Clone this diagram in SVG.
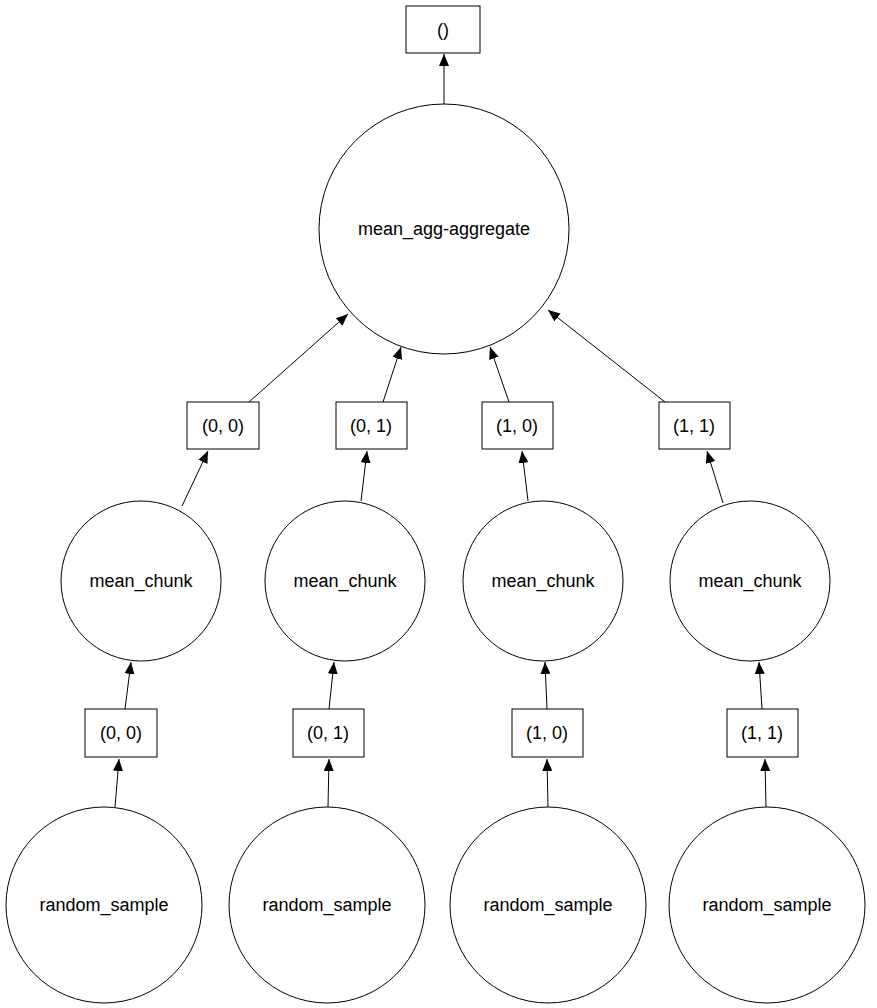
<svg xmlns="http://www.w3.org/2000/svg" width="877" height="1008" viewBox="0 0 877 1008">
<style>
.n{fill:#fff;stroke:#000;stroke-width:1}
text{font-family:"Liberation Sans",Arial,sans-serif;font-size:18px;text-anchor:middle;dominant-baseline:central}
.e{stroke:#000;stroke-width:1;fill:none;marker-end:url(#a)}
</style>
<defs><marker id="a" markerWidth="12" markerHeight="10" refX="12" refY="5" orient="auto" markerUnits="userSpaceOnUse"><path d="M0,0L12,5L0,10z" fill="#000"/></marker></defs>
<rect width="877" height="1008" fill="#fff"/>
<g id="edges">
<path class="e" d="M444,104L444,54"/>
<path class="e" d="M249,402L348,314"/>
<path class="e" d="M383,402L401,347"/>
<path class="e" d="M509,402L490,347"/>
<path class="e" d="M665,402L548,310"/>
<path class="e" d="M182,506L208,451"/>
<path class="e" d="M361,501L367,451"/>
<path class="e" d="M528,501L522,451"/>
<path class="e" d="M723,503L707,451"/>
<path class="e" d="M125,709L131,662"/>
<path class="e" d="M329,709L334,662"/>
<path class="e" d="M547,709L545,662"/>
<path class="e" d="M762,709L759,662"/>
<path class="e" d="M115,807L119,759"/>
<path class="e" d="M328,807L329,759"/>
<path class="e" d="M548,807L547,759"/>
<path class="e" d="M766,807L765,759"/>
</g>
<g id="root"><rect class="n" x="406" y="6" width="74" height="47"/><text x="443" y="30">()</text></g>
<g id="agg"><circle class="n" cx="444" cy="229" r="125"/><text x="444" y="229">mean_agg-aggregate</text></g>
<g id="k00"><rect class="n" x="187" y="402" width="72" height="47"/><text x="223" y="426">(0, 0)</text></g>
<g id="k01"><rect class="n" x="336" y="402" width="71" height="47"/><text x="371" y="426">(0, 1)</text></g>
<g id="k10"><rect class="n" x="482" y="402" width="71" height="47"/><text x="517" y="426">(1, 0)</text></g>
<g id="k11"><rect class="n" x="659" y="402" width="71" height="47"/><text x="694" y="426">(1, 1)</text></g>
<g id="c0"><circle class="n" cx="141" cy="581" r="80"/><text x="141" y="581">mean_chunk</text></g>
<g id="c1"><circle class="n" cx="345" cy="581" r="80"/><text x="345" y="581">mean_chunk</text></g>
<g id="c2"><circle class="n" cx="543" cy="581" r="80"/><text x="543" y="581">mean_chunk</text></g>
<g id="c3"><circle class="n" cx="750" cy="581" r="80"/><text x="750" y="581">mean_chunk</text></g>
<g id="l00"><rect class="n" x="85" y="709" width="72" height="48"/><text x="121" y="733">(0, 0)</text></g>
<g id="l01"><rect class="n" x="293" y="709" width="71" height="48"/><text x="328" y="733">(0, 1)</text></g>
<g id="l10"><rect class="n" x="512" y="709" width="71" height="48"/><text x="547" y="733">(1, 0)</text></g>
<g id="l11"><rect class="n" x="727" y="709" width="71" height="48"/><text x="762" y="733">(1, 1)</text></g>
<g id="r0"><circle class="n" cx="104" cy="905" r="98"/><text x="104" y="905">random_sample</text></g>
<g id="r1"><circle class="n" cx="327" cy="905" r="98"/><text x="327" y="905">random_sample</text></g>
<g id="r2"><circle class="n" cx="548" cy="905" r="98"/><text x="548" y="905">random_sample</text></g>
<g id="r3"><circle class="n" cx="767" cy="905" r="98"/><text x="767" y="905">random_sample</text></g>
</svg>
